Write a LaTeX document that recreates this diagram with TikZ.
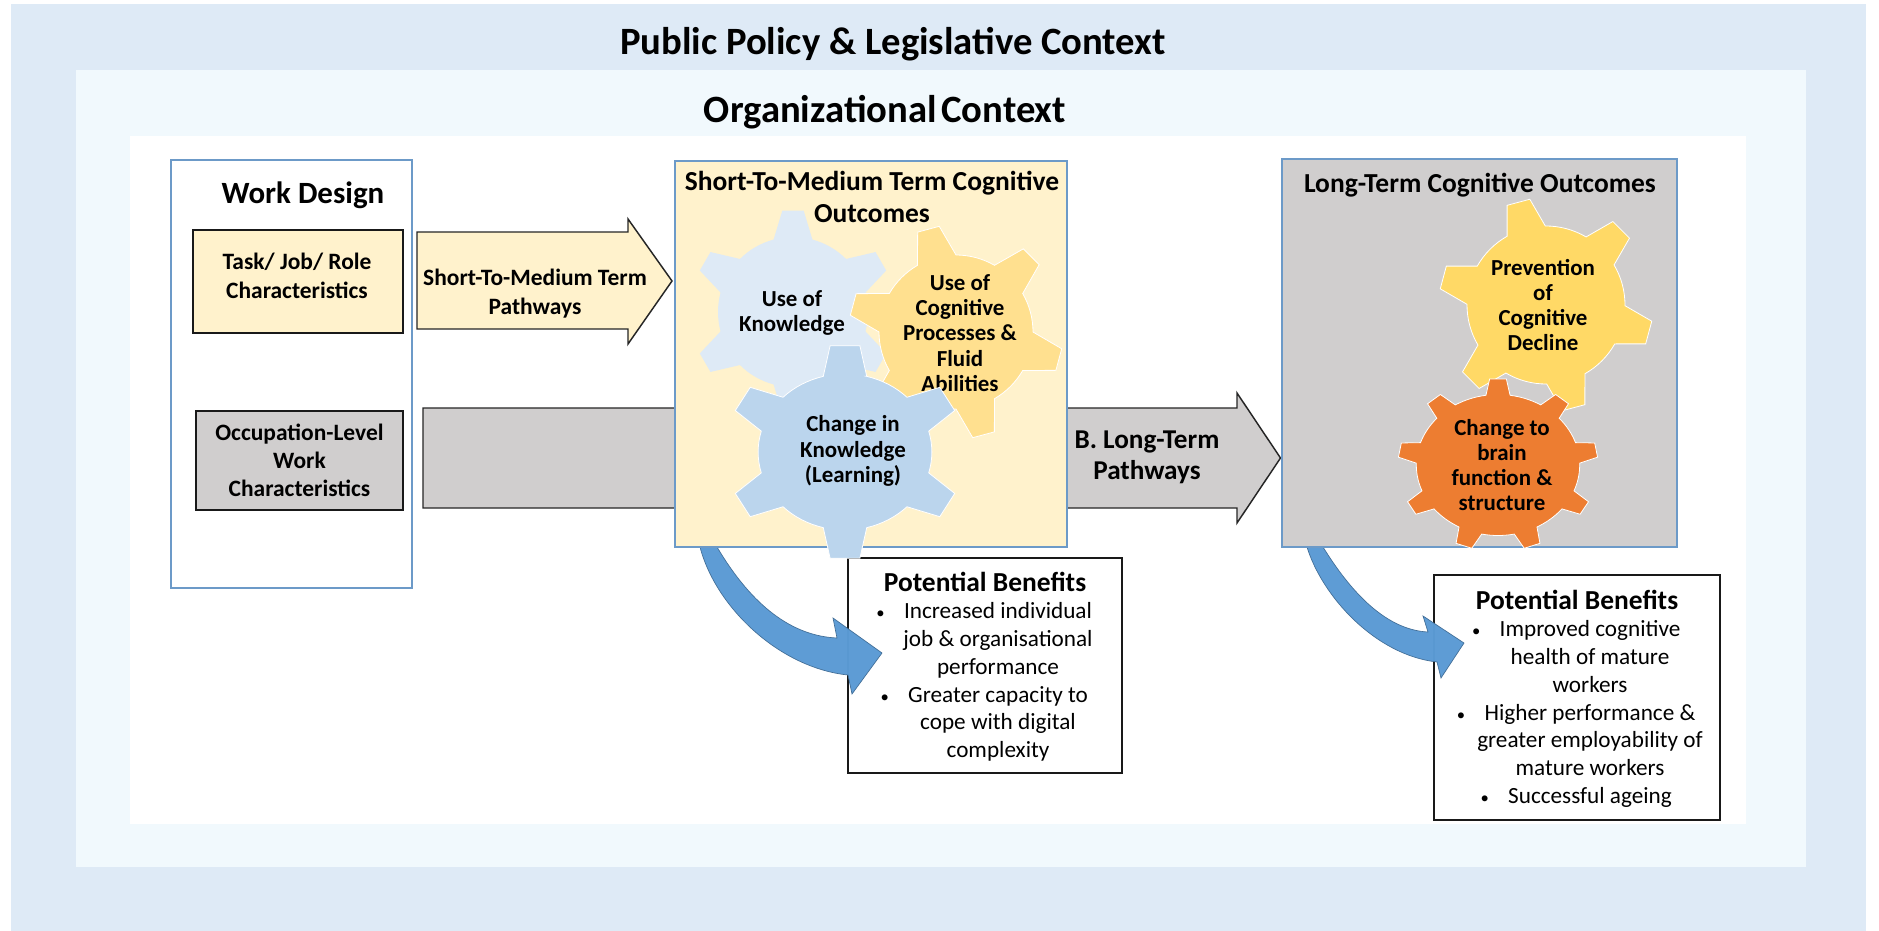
\documentclass[tikz,border=0pt]{standalone}
\usepackage{fontspec}
\setmainfont{Carlito}
\usetikzlibrary{calc}

\definecolor{outerblue}{HTML}{DEEAF6}
\definecolor{midblue}{HTML}{F1F9FD}
\definecolor{paleyellow}{HTML}{FFF2CC}
\definecolor{softgrey}{HTML}{D0CECE}
\definecolor{edgeblue}{HTML}{6C9AC8}
\definecolor{arrowblue}{HTML}{5B9BD5}
\definecolor{gearlight}{HTML}{DEEAF6}
\definecolor{gearblue}{HTML}{BBD5ED}
\definecolor{gearpale}{HTML}{FFE08F}
\definecolor{geargold}{HTML}{FFD966}
\definecolor{gearorange}{HTML}{ED7D31}

\tikzset{
  panel/.style={draw=edgeblue, line width=1.1pt, inner sep=0pt},
  charbox/.style={draw=black!90, line width=1.1pt, inner sep=0pt},
  pathshape/.style={draw=black!85, line width=1.1pt, line join=miter},
  curved/.style={fill=arrowblue, draw=arrowblue!70!black, line width=0.5pt, opacity=0.98},
  bigtitle/.style={font=\fontsize{29}{32}\selectfont\bfseries},
  headtext/.style={font=\fontsize{20.6}{24.5}\selectfont\bfseries, align=center},
  labeltext/.style={font=\fontsize{17.6}{21.6}\selectfont\bfseries, align=center},
  geartext/.style={font=\fontsize{17.2}{18.9}\selectfont\bfseries, align=center},
  listtext/.style={font=\fontsize{17.4}{20.9}\selectfont, align=center}
}

% style, centre, scaling, teeth, phase, body radius, tip radius, base angle, tip angle
\newcommand{\drawgear}[9]{%
  \pgfmathsetmacro{\gstep}{360/#4}
  \begin{scope}[shift={#2}, x=0.75pt, y=0.75pt, #3]
    \path[#1] ({#5-#8}:#6)
    \foreach \k in {1,...,#4}{
      -- ({#5+(\k-1)*\gstep-#9}:#7) -- ({#5+(\k-1)*\gstep+#9}:#7)
      -- ({#5+(\k-1)*\gstep+#8}:#6)
      arc[start angle={#5+(\k-1)*\gstep+#8}, delta angle={\gstep-2*#8}, radius=#6]
    } -- cycle;
  \end{scope}
}
\newcommand{\bulletmark}{\llap{{\fontsize{12.5}{12.5}\selectfont •}\hspace{14.5pt}}}

\begin{document}
\begin{tikzpicture}[x=0.75pt, y=-0.75pt]

  \useasboundingbox (0,0) rectangle (1879,931);

  \fill[outerblue] (11,4) rectangle (1866,931);
  \fill[midblue] (76,70) rectangle (1806,867);
  \fill[white] (130,136) rectangle (1746,824);

  \node[bigtitle] (policytitle) at (893,44) {Public Policy \& Legislative Context};
  \node[bigtitle] (orgtitle) at (885,112) {Organizational\hspace{-3pt} Context};

  % work design column
  \node[panel, minimum width=180.75pt, minimum height=321pt] (workdesign) at (291.5,374) {};
  \node[headtext, font=\fontsize{23.2}{26}\selectfont\bfseries] (worktitle) at (303,195) {Work Design};
  \node[charbox, fill=paleyellow, minimum width=157.5pt, minimum height=77pt, labeltext] (taskbox) at (298,281.5) {};
  \node[labeltext] (tasktext) at (297,276) {Task/ Job/ Role\\Characteristics};
  \node[charbox, fill=softgrey, minimum width=155pt, minimum height=74pt, labeltext, font=\fontsize{17.6}{20.8}\selectfont\bfseries] (occbox) at (299.5,460.5)
    {Occupation-Level\\Work\\Characteristics};

  % block arrows
  \draw[pathshape, fill=paleyellow] (417,232) -- (628,232) -- (628,219) -- (672,281)
    -- (628,344) -- (628,329) -- (417,329) -- cycle;
  \node[labeltext] (shortpath) at (535,294) {Short-To-Medium Term\\Pathways};
  \draw[pathshape, fill=softgrey] (423,408) -- (1237,408) -- (1237,393) -- (1280.5,458)
    -- (1237,523) -- (1237,508) -- (423,508) -- cycle;
  \node[headtext, font=\fontsize{20.4}{23}\selectfont\bfseries] (longpath) at (1147,457) {B. Long-Term\\Pathways};

  % potential benefits
  \node[charbox, fill=white, minimum width=205.5pt, minimum height=161pt] (benefitsa) at (985,665.5) {};
  \node[headtext] (benefitsatitle) at (985,582) {Potential Benefits};
  \node[listtext] (benefitsatext) at (998,682) {\bulletmark Increased individual\\job \& organisational\\performance\\
    \bulletmark Greater capacity to\\cope with digital\\complexity};
  \node[charbox, fill=white, minimum width=214.5pt, minimum height=183.75pt] (benefitsb) at (1577,697.5) {};
  \node[headtext] (benefitsbtitle) at (1577,600) {Potential Benefits};
  \node[listtext] (benefitsbtext) at (1590,714) {\bulletmark Improved cognitive\\health of mature\\workers\\
    \bulletmark Higher performance \&\\greater employability of\\mature workers\\
    \bulletmark Successful ageing};

  \draw[curved] (700,547) .. controls (716,608) and (780,668) .. (848,675) -- (852,694)
    -- (882,653) -- (833,618) -- (837,638) .. controls (792,636) and (752,606) .. (717,547) -- cycle;
  \draw[curved] (1307,547) .. controls (1322,596) and (1375,655) .. (1437,662) -- (1441,678)
    -- (1464,643) -- (1423,616) -- (1428,632) .. controls (1387,630) and (1352,594) .. (1323,547) -- cycle;

  % short-to-medium term outcomes
  \node[panel, fill=paleyellow, minimum width=294pt, minimum height=289.5pt] (shortbox) at (871,354) {};
  \node[headtext] (shorttitle) at (872,197) {Short-To-Medium Term Cognitive\\Outcomes};
  \drawgear{fill=gearlight}{(793,312)}{}{6}{90}{75}{102}{15}{6}
  \node[geartext] (useknow) at (792,313) {Use of\\Knowledge};
  \drawgear{fill=gearpale, draw=white, line width=0.6pt}{(956,332)}{}{6}{105}{77}{107}{15}{6}
  \node[geartext] (usecog) at (960,333) {Use of\\Cognitive\\Processes \&\\Fluid\\Abilities};
  \drawgear{fill=gearblue, draw=white, line width=0.6pt}{(845,452)}{xscale=1.19, yscale=1.07}{6}{90}{73}{100}{14.5}{7.2}
  \node[geartext] (changeknow) at (853,451) {Change in\\Knowledge\\(Learning)};

  % long-term outcomes
  \node[panel, fill=softgrey, minimum width=296.25pt, minimum height=291pt] (longbox) at (1479.5,353) {};
  \node[headtext] (longtitle) at (1480,185) {Long-Term Cognitive Outcomes};
  \drawgear{fill=geargold, draw=white, line width=0.6pt}{(1546,305)}{}{6}{105}{79}{107}{14.5}{6.3}
  \node[geartext] (prevent) at (1543,305) {Prevention\\of\\Cognitive\\Decline};
  \drawgear{fill=gearorange, draw=white, line width=0.6pt}{(1498,465)}{yscale=0.863}{9}{90}{81.7}{100}{8.5}{4.8}
  \node[geartext] (changebrain) at (1502,465) {Change to\\brain\\function \&\\structure};

\end{tikzpicture}
\end{document}
